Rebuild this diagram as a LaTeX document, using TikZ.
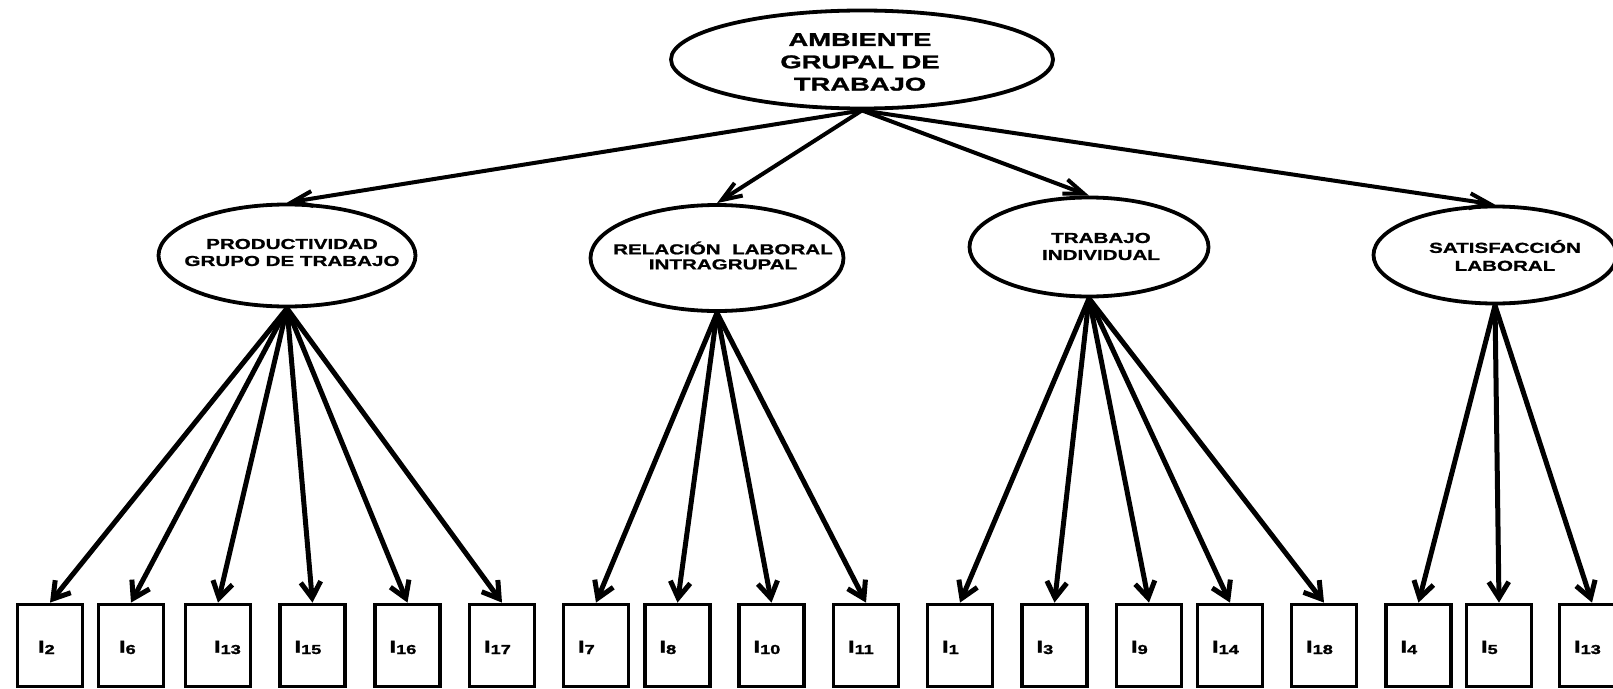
\documentclass[tikz,border=0pt]{standalone}
\usepackage{fontspec}
\usetikzlibrary{arrows.meta,shapes.geometric,shadows}
\newfontfamily\titlefont[FakeStretch=1.48,FakeBold=1.5]{Liberation Sans Bold}
\newfontfamily\factorfont[FakeStretch=1.42,FakeBold=1.2]{Liberation Sans Bold}
\newfontfamily\itemfont[FakeStretch=1.4,FakeBold=1.5]{Liberation Sans Bold}
% item label: I with a lowered index; optional extra indent
\newcommand\itemlab[2][0pt]{\hspace*{\dimexpr6.5pt+#1\relax}I\raisebox{-1.5pt}{\fontsize{13}{13}\selectfont #2}}
\begin{document}
\begin{tikzpicture}[x=1pt,y=-1pt,
  softshadow/.style={drop shadow={shadow xshift=1.5pt,shadow yshift=-1.5pt,opacity=0.25,fill=black}},
  lat/.style={ellipse,draw,line width=3.8pt,fill=white,inner sep=0pt,softshadow},
  titletext/.style={inner sep=0pt,align=center,font=\titlefont\fontsize{18.5}{22.3}\selectfont},
  facttext/.style={inner sep=0pt,align=center,font=\factorfont\fontsize{14.5}{17}\selectfont},
  itembox/.style={rectangle,draw,line width=3.8pt,fill=white,softshadow,
    minimum width=65pt,minimum height=82pt,inner xsep=8pt,text width=49pt,align=left,
    text height=14pt,text depth=0pt,font=\itemfont\fontsize{17}{17}\selectfont},
  uparrow/.style={line width=4pt,-{Straight Barb[length=20pt,width=15pt]}},
  lowarrow/.style={line width=5pt,-{Straight Barb[length=16pt,width=20pt]}}]
\useasboundingbox (0,0) rectangle (1613,688);

% second-order factor
\node[lat,minimum width=382pt,minimum height=98pt] (agt) at (862,59.5) {};
\node[titletext] (agt-t) at (860,62) {AMBIENTE\\GRUPAL DE\\TRABAJO};

% first-order factors
\node[lat,minimum width=257pt,minimum height=102pt] (pgt) at (287,255.5) {};
\node[facttext] (pgt-t) at (292,252.5) {PRODUCTIVIDAD\\GRUPO DE TRABAJO};
\node[lat,minimum width=253pt,minimum height=106pt] (rli) at (717,258) {};
\node[facttext,font=\factorfont\fontsize{14.5}{15}\selectfont] (rli-t) at (723,255.5) {RELACIÓN~~LABORAL\\INTRAGRUPAL};
\node[lat,minimum width=239pt,minimum height=99pt] (tin) at (1089,247) {};
\node[facttext] (tin-t) at (1101,246.5) {TRABAJO\\INDIVIDUAL};
\node[lat,minimum width=243pt,minimum height=97pt] (sla) at (1495,255) {};
\node[facttext,font=\factorfont\fontsize{14.5}{18}\selectfont] (sla-t) at (1505,255.5) {SATISFACCIÓN\\LABORAL};

% items
\node[itembox] (i2)  at (50,645.5)   {\itemlab[6pt]{2}};
\node[itembox] (i6)  at (131,645.5)  {\itemlab[6pt]{6}};
\node[itembox] (i13) at (218,645.5)  {\itemlab[14pt]{13}};
\node[itembox] (i15) at (312.5,645.5){\itemlab{15}};
\node[itembox] (i16) at (407.5,645.5){\itemlab{16}};
\node[itembox] (i17) at (502,645.5)  {\itemlab{17}};
\node[itembox] (i7)  at (596,645.5)  {\itemlab{7}};
\node[itembox] (i8)  at (677.5,645.5){\itemlab{8}};
\node[itembox] (i10) at (771.5,645.5){\itemlab{10}};
\node[itembox] (i11) at (866,645.5)  {\itemlab{11}};
\node[itembox] (i1)  at (960,645.5)  {\itemlab{1}};
\node[itembox] (i3)  at (1054.5,645.5){\itemlab{3}};
\node[itembox] (i9)  at (1149,645.5) {\itemlab{9}};
\node[itembox] (i14) at (1230,645.5) {\itemlab{14}};
\node[itembox] (i18) at (1324,645.5) {\itemlab{18}};
\node[itembox] (i4)  at (1418.5,645.5){\itemlab{4}};
\node[itembox] (i5)  at (1499,645.5) {\itemlab{5}};
\node[itembox] (i13b) at (1592,645.5){\itemlab{13}};

% second-order loadings
\foreach \f in {pgt,rli,tin,sla} \draw[uparrow] (agt.south) -- (\f.north);

% first-order loadings
\foreach \i in {i2,i6,i13,i15,i16,i17} \draw[lowarrow] (pgt.south) -- (\i.north);
\foreach \i in {i7,i8,i10,i11} \draw[lowarrow] (rli.south) -- (\i.north);
\foreach \i in {i1,i3,i9,i14,i18} \draw[lowarrow] (tin.south) -- (\i.north);
\foreach \i in {i4,i5,i13b} \draw[lowarrow] (sla.south) -- (\i.north);
\end{tikzpicture}
\end{document}
